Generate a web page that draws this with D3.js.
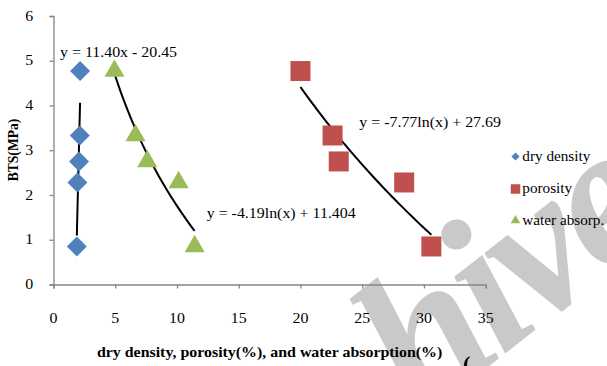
<!DOCTYPE html>
<html>
<head>
<meta charset="utf-8">
<script src="https://cdn.jsdelivr.net/npm/d3@7"></script>
<style>
  html, body { margin: 0; padding: 0; background: #fff; }
  svg { display: block; }
</style>
</head>
<body>
<svg id="chart" width="607" height="366"></svg>
<script>
// Brazilian tensile strength against three index properties
const seriesNames = ["dry density", "porosity", "water absorp."];
const btsValues = [4.77, 3.33, 2.75, 2.28, 0.85];
const dryDensity = [2.15, 2.13, 2.07, 1.94, 1.89];
const porosity = [20.0, 22.6, 23.1, 28.4, 30.6];
const waterAbsorption = [4.94, 6.64, 7.59, 10.13, 11.43];
const xTicks = [0, 5, 10, 15, 20, 25, 30, 35];
const yTicks = [0, 1, 2, 3, 4, 5, 6];
// fitted trend lines: [type, coefficient a, coefficient b]
const trendDry = ["linear", 11.40, -20.45];
const trendPorosity = ["log", -7.77, 27.69];
const trendWater = ["log", -4.19, 11.404];
const trendLabels = ["y = 11.40x - 20.45", "y = -7.77ln(x) + 27.69", "y = -4.19ln(x) + 11.404"];
const xTitle = "dry density, porosity(%), and water absorption(%)";
const yTitle = "BTS(MPa)";

const colors = ["#4F81BD", "#C0504D", "#9BBB59"];
const axisColor = "#868686";
const SERIF = '"Liberation Serif"';
const FS = 13.6;      // font size
const SX = 1.17;      // horizontal glyph stretch

const svg = d3.select("#chart");
const x = d3.scaleLinear().domain([0, 35]).range([53.5, 485.7]);
const y = d3.scaleLinear().domain([0, 6]).range([284.5, 16]);

function stretched(g, str, px, py, opts = {}) {
  const t = g.append("text")
    .attr("transform", `translate(${px},${py}) scale(${opts.sx || SX},1)`)
    .style("font-family", SERIF)
    .style("font-size", (opts.size || FS) + "px")
    .attr("text-anchor", opts.anchor || "start")
    .attr("fill", opts.fill || "#000")
    .text(str);
  if (opts.bold) t.style("font-weight", "bold");
  return t;
}

// background lettering
svg.append("text")
  .attr("transform", "translate(420,420) rotate(-38)")
  .style("font-family", SERIF)
  .style("font-size", "200px")
  .style("font-style", "italic")
  .style("font-weight", "bold")
  .style("letter-spacing", "-8px")
  .attr("fill", "#c9c9c9")
  .text("hive");

// axes
const xAxis = svg.append("g")
  .attr("transform", `translate(0,${y(0)})`)
  .call(d3.axisBottom(x).tickValues(xTicks).tickSize(4).tickFormat(""));
const yAxis = svg.append("g")
  .attr("transform", `translate(${x(0)},0)`)
  .call(d3.axisLeft(y).tickValues(yTicks).tickSize(4).tickFormat(""));
[xAxis, yAxis].forEach(a => {
  a.select(".domain").attr("stroke", axisColor).attr("stroke-width", 1.3);
  a.selectAll(".tick line").attr("stroke", axisColor).attr("stroke-width", 1.3);
});

const labels = svg.append("g");
xTicks.forEach(v => stretched(labels, v, x(v), 322.5, { anchor: "middle" }));
yTicks.forEach(v => stretched(labels, v, 33.3, y(v) + 4.6, { anchor: "end" }));

// axis titles
stretched(svg, xTitle, (x(0) + x(35)) / 2, 356.5, { anchor: "middle", bold: true });
svg.append("text")
  .attr("transform", `translate(17.5,150) rotate(-90)`)
  .style("font-family", SERIF)
  .style("font-size", "13.6px")
  .style("font-weight", "bold")
  .attr("text-anchor", "middle")
  .text(yTitle);

// trend lines
function trendFn(t) {
  return t[0] === "linear" ? v => t[1] * v + t[2] : v => t[1] * Math.log(v) + t[2];
}
function trendPath(xs, t) {
  const f = trendFn(t);
  const [lo, hi] = d3.extent(xs);
  const pts = d3.range(0, 41).map(i => {
    const xv = lo + (hi - lo) * i / 40;
    return [x(xv), y(f(xv))];
  });
  return d3.line()(pts);
}
const trends = [[dryDensity, trendDry], [porosity, trendPorosity], [waterAbsorption, trendWater]];
svg.append("g").selectAll("path").data(trends).join("path")
  .attr("d", d => trendPath(d[0], d[1]))
  .attr("fill", "none")
  .attr("stroke", "#000")
  .attr("stroke-width", 2);

// markers
const diamond = d3.symbol().type(d3.symbolSquare).size(200);
const square = d3.symbol().type(d3.symbolSquare).size(400);
const triangle = d3.symbol().type(d3.symbolTriangle).size(175);

svg.append("g").selectAll("path").data(btsValues).join("path")
  .attr("d", square())
  .attr("transform", (d, i) => `translate(${x(porosity[i])},${y(d)})`)
  .attr("fill", colors[1]);
svg.append("g").selectAll("path").data(btsValues).join("path")
  .attr("d", diamond())
  .attr("transform", (d, i) => `translate(${x(dryDensity[i])},${y(d)}) rotate(45)`)
  .attr("fill", colors[0]);
svg.append("g").selectAll("path").data(btsValues).join("path")
  .attr("d", triangle())
  .attr("transform", (d, i) => `translate(${x(waterAbsorption[i])},${y(d)})`)
  .attr("fill", colors[2]);

// equation labels
stretched(svg, trendLabels[0], 60, 57.3);
stretched(svg, trendLabels[1], 359.3, 126.7);
stretched(svg, trendLabels[2], 206.7, 217.7);

// legend
const legend = svg.append("g");
const legendY = [156.5, 189, 220.5];
const legendMarks = [
  d3.symbol().type(d3.symbolSquare).size(34)(),
  d3.symbol().type(d3.symbolSquare).size(90)(),
  d3.symbol().type(d3.symbolTriangle).size(40)()
];
seriesNames.forEach((name, i) => {
  legend.append("path")
    .attr("d", legendMarks[i])
    .attr("transform", `translate(515.5,${legendY[i]})` + (i === 0 ? " rotate(45)" : ""))
    .attr("fill", colors[i]);
  stretched(legend, name, 522.3, legendY[i] + 4.3, { sx: 1.12 });
});

// stray bracket at the lower edge
svg.append("text")
  .attr("x", 463).attr("y", 371)
  .style("font-family", SERIF)
  .style("font-size", "22px")
  .style("font-weight", "bold")
  .text("(");
</script>
</body>
</html>
